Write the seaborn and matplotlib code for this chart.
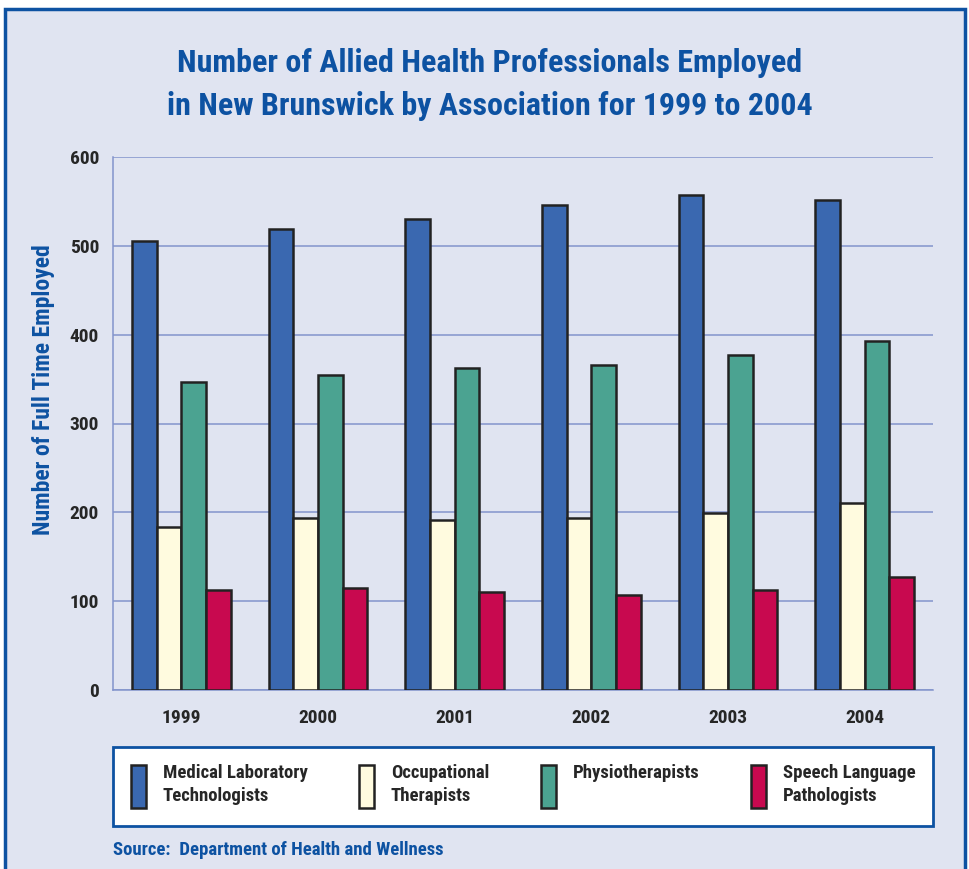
import pandas as pd
import matplotlib.pyplot as plt
import seaborn as sns
from matplotlib.patches import Rectangle
from matplotlib import font_manager

# Valeurs
years = ["1999", "2000", "2001", "2002", "2003", "2004"]
med_lab = [506, 519, 530, 546, 557, 552]
occ_ther = [183, 194, 191, 194, 199, 210]
physio = [347, 355, 363, 366, 377, 393]
speech = [113, 115, 110, 107, 113, 127]

groups = ["Medical Laboratory\nTechnologists", "Occupational\nTherapists",
          "Physiotherapists\n ", "Speech Language\nPathologists"]
colors = ["#3A68B0", "#FFFBDF", "#4BA391", "#C8094F"]

df = pd.DataFrame({
    "year": years * 4,
    "value": med_lab + occ_ther + physio + speech,
    "group": [g for g in groups for _ in years],
})

installed = {f.name for f in font_manager.fontManager.ttflist}

sns.set_style("white")
fams = [f for f in ["Liberation Sans Narrow", "Roboto Condensed", "Roboto"] if f in installed]
plt.rcParams["font.family"] = fams + ["DejaVu Sans"]
plt.rcParams["font.weight"] = "bold"

blue = "#0D52A2"
grid_blue = "#8394CC"
bg = "#E0E4F1"

fig = plt.figure(figsize=(9.7, 8.69), dpi=100, facecolor="white")
fig.patches.append(Rectangle((5 / 970, -0.01), 960 / 970, 1.01 - 9 / 869,
                             transform=fig.transFigure, facecolor=bg,
                             edgecolor=blue, linewidth=2.5, zorder=-5))

ax = fig.add_axes([113 / 970, (869 - 690) / 869, 820 / 970, 533 / 869])
ax.set_facecolor(bg)
sns.barplot(data=df, x="year", y="value", hue="group", palette=colors,
            saturation=1, width=0.72, edgecolor="#222222", linewidth=1.8,
            ax=ax, zorder=3)

ax.set_ylim(0, 600)
ax.set_xlim(-0.5, 5.5)
ax.set_yticks(range(0, 601, 100))
ax.set_xticks([-0.5, 5.5], minor=True)
ax.grid(axis="y", color=grid_blue, linewidth=1.1, zorder=0)
ax.set_axisbelow(True)
for s in ["top", "right"]:
    ax.spines[s].set_visible(False)
for s in ["left", "bottom"]:
    ax.spines[s].set_color(grid_blue)
    ax.spines[s].set_linewidth(1.1)
ax.tick_params(axis="y", length=7, color=grid_blue, width=1.1, labelsize=14, pad=3)
ax.tick_params(axis="x", which="major", length=0, labelsize=14, pad=14)
ax.tick_params(axis="x", which="minor", length=6, color=grid_blue, width=1.1)
for lab in ax.get_xticklabels() + ax.get_yticklabels():
    lab.set_fontweight("bold")
ax.set_xlabel("")
ax.set_ylabel("Number of Full Time Employed", color=blue, fontsize=17,
              fontweight="bold")
ax.yaxis.set_label_coords(-0.071, 0.563)

handles, labels = ax.get_legend_handles_labels()
ax.get_legend().remove()
leg = fig.legend(handles, labels, loc="lower left",
                 bbox_to_anchor=(113 / 970, (869 - 826) / 869, 820 / 970, 81 / 869),
                 mode="expand", borderaxespad=0, ncol=4, fontsize=13.5,
                 frameon=True, fancybox=False, framealpha=1,
                 handlelength=0.8, handleheight=3.2, handletextpad=0.9,
                 borderpad=0.95, columnspacing=1.5)
leg.get_frame().set_edgecolor(blue)
leg.get_frame().set_linewidth(2)
leg.get_frame().set_facecolor("white")
for t in leg.get_texts():
    t.set_fontweight("bold")
    t.set_linespacing(1.35)

fig.text(0.505, 1 - 63 / 869, "Number of Allied Health Professionals Employed",
         ha="center", va="center", fontsize=23, fontweight="bold", color=blue)
fig.text(0.505, 1 - 106 / 869, "in New Brunswick by Association for 1999 to 2004",
         ha="center", va="center", fontsize=23, fontweight="bold", color=blue)
fig.text(113 / 970, 1 - 850 / 869, "Source:  Department of Health and Wellness",
         ha="left", va="center", fontsize=13.5, fontweight="bold", color=blue)

fig.savefig("out.png", dpi=100, facecolor="white")
